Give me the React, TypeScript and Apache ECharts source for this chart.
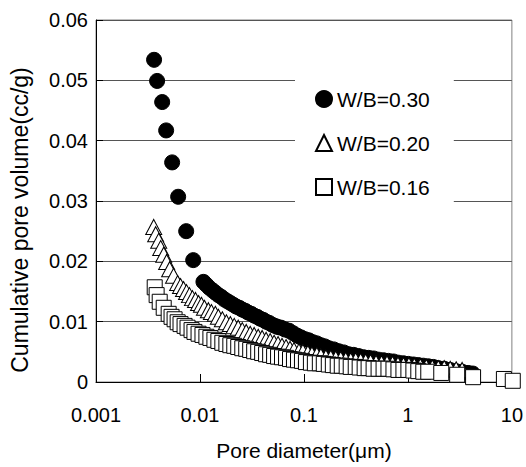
import React, { useEffect, useRef } from "react";
import * as echarts from "echarts";

const seriesNames = ["W/B=0.30", "W/B=0.20", "W/B=0.16"];
const xTickLabels = ["0.001", "0.01", "0.1", "1", "10"];
const yTickLabels = ["0", "0.01", "0.02", "0.03", "0.04", "0.05", "0.06"];
const xAxisTitle = "Pore diameter(μm)";
const yAxisTitle = "Cumulative pore volume(cc/g)";

// W/B=0.30 : pore diameter (μm)
const wb030Diameter = [
  0.00362, 0.00387, 0.00433, 0.00473, 0.0054, 0.00617, 0.00737, 0.00861,
  0.0108, 0.01153, 0.01233, 0.01318, 0.01407, 0.01503, 0.01607, 0.01714, 0.01832, 0.01959,
  0.02094, 0.02234, 0.02388, 0.02553, 0.02724, 0.02911, 0.03112, 0.03327, 0.03548, 0.03793,
  0.04055, 0.04325, 0.04624, 0.04943, 0.05278, 0.05636, 0.06026, 0.06577, 0.07186, 0.07852,
  0.0857, 0.09354, 0.1023, 0.1117, 0.1219, 0.133, 0.1455, 0.1589, 0.1734, 0.1936,
  0.2163, 0.2415, 0.2698, 0.3006, 0.3357, 0.375, 0.4188, 0.4677, 0.5224, 0.5834,
  0.6501, 0.7261, 0.811, 0.9057, 1.011, 1.129, 1.259, 1.406, 1.57, 1.754,
  1.959, 2.234, 2.551, 2.911, 3.323, 3.793, 4.2,
];
// W/B=0.30 : cumulative pore volume (cc/g)
const wb030Volume = [
  0.0534, 0.0499, 0.0464, 0.0417, 0.0364, 0.0307, 0.025, 0.0202,
  0.0166, 0.0161, 0.0156, 0.0152, 0.0148, 0.0144, 0.0141, 0.0137, 0.0134, 0.0131,
  0.0128, 0.0125, 0.0123, 0.012, 0.0118, 0.0115, 0.0113, 0.011, 0.0108, 0.0105,
  0.0103, 0.01, 0.0098, 0.0095, 0.0093, 0.0091, 0.009, 0.0087, 0.0085, 0.0081,
  0.0077, 0.0074, 0.0071, 0.0069, 0.0066, 0.0064, 0.0061, 0.0059, 0.0056, 0.0054,
  0.0051, 0.0049, 0.0046, 0.0045, 0.0043, 0.0041, 0.004, 0.0039, 0.0037, 0.0036,
  0.0035, 0.0034, 0.0032, 0.0031, 0.003, 0.0029, 0.0028, 0.0027, 0.0026, 0.0025,
  0.0023, 0.0022, 0.002, 0.0018, 0.0017, 0.0015, 0.0014,
];

// W/B=0.20
const wb020Diameter = [
  0.00359, 0.00375, 0.00401, 0.00419, 0.00448, 0.00478, 0.00511, 0.00557, 0.0061, 0.0065,
  0.00695, 0.00743, 0.00793, 0.00847, 0.00906, 0.00969, 0.01033, 0.01104, 0.01205, 0.01288,
  0.01406, 0.01503, 0.01641, 0.01795, 0.01959, 0.02138, 0.02333, 0.02553, 0.02786, 0.03041,
  0.03322, 0.03631, 0.03963, 0.04325, 0.04732, 0.05164, 0.05636, 0.06152, 0.0673, 0.07345,
  0.08017, 0.08954, 0.09772, 0.1091, 0.1194, 0.133, 0.1455, 0.1626, 0.1811, 0.2023,
  0.2259, 0.2523, 0.2818, 0.3146, 0.3512, 0.3921, 0.4375, 0.4937, 0.5572, 0.6296,
  0.7112, 0.8026, 0.9057, 1.022, 1.153, 1.316, 1.503, 1.716, 1.959, 2.236,
  2.551, 2.912, 3.323,
];
const wb020Volume = [
  0.0257, 0.0245, 0.0234, 0.0222, 0.0211, 0.0199, 0.0187, 0.0176, 0.0164, 0.0159,
  0.0154, 0.0149, 0.0144, 0.0139, 0.0136, 0.0131, 0.0128, 0.0123, 0.0119, 0.0116,
  0.0113, 0.0108, 0.0104, 0.0099, 0.0096, 0.0093, 0.009, 0.0086, 0.0083, 0.008,
  0.0078, 0.0075, 0.0073, 0.007, 0.0068, 0.0065, 0.0063, 0.006, 0.0058, 0.0055,
  0.0053, 0.0051, 0.005, 0.0048, 0.0046, 0.0045, 0.0043, 0.0041, 0.004, 0.0039,
  0.0038, 0.0037, 0.0036, 0.0036, 0.0035, 0.0034, 0.0033, 0.0032, 0.0031, 0.0031,
  0.003, 0.0029, 0.0028, 0.0028, 0.0027, 0.0026, 0.0025, 0.0024, 0.0023, 0.0023,
  0.0022, 0.0021, 0.002,
];

// W/B=0.16
const wb016Diameter = [
  0.00367, 0.00383, 0.0041, 0.00448, 0.005, 0.00533, 0.0057, 0.0061, 0.0065, 0.00711,
  0.00759, 0.0083, 0.00885, 0.00969, 0.01057, 0.01153, 0.0126, 0.01377, 0.01503, 0.01641,
  0.01795, 0.01959, 0.02138, 0.02333, 0.02553, 0.02786, 0.03041, 0.03322, 0.03631, 0.03963,
  0.04325, 0.04732, 0.05164, 0.05636, 0.06152, 0.0673, 0.07345, 0.08017, 0.0877, 0.09572,
  0.1045, 0.1167, 0.1274, 0.1422, 0.1552, 0.1734, 0.1897, 0.2113, 0.2312, 0.2576,
  0.2818, 0.3148, 0.3436, 0.3837, 0.4188, 0.4677, 0.5224, 0.5834, 0.6501, 0.7261,
  0.811, 0.9057, 1.011, 1.129, 1.259, 1.406, 1.57, 2.093, 2.977, 4.236,
  8.38, 10.2,
];
const wb016Volume = [
  0.0157, 0.0144, 0.0133, 0.0123, 0.0113, 0.0108, 0.0104, 0.0099, 0.0096, 0.0093,
  0.009, 0.0086, 0.0083, 0.008, 0.0078, 0.0075, 0.0073, 0.007, 0.0068, 0.0065,
  0.0063, 0.0061, 0.006, 0.0058, 0.0056, 0.0055, 0.0053, 0.0051, 0.005, 0.0048,
  0.0046, 0.0045, 0.0043, 0.0042, 0.0041, 0.004, 0.0038, 0.0037, 0.0036, 0.0035,
  0.0033, 0.0032, 0.0031, 0.0031, 0.003, 0.0029, 0.0028, 0.0027, 0.0027, 0.0026,
  0.0025, 0.0025, 0.0024, 0.0023, 0.0023, 0.0022, 0.0022, 0.0022, 0.0022, 0.0021,
  0.002, 0.002, 0.002, 0.0019, 0.0018, 0.0017, 0.0017, 0.0015, 0.0012, 0.0008,
  0.0005, 0.0002,
];

const FONT = "'Liberation Sans', Arial, sans-serif";

function pairs(xs: number[], ys: number[]) {
  return xs.map((x, i) => [x, ys[i]]);
}

export default function App() {
  const ref = useRef<HTMLDivElement>(null);

  useEffect(() => {
    if (!ref.current) return;
    const chart = echarts.init(ref.current, null, { renderer: "svg" });
    const option: any = {
      animation: false,
      backgroundColor: "#ffffff",
      textStyle: { fontFamily: FONT, color: "#000" },
      grid: {
        left: 96,
        right: 12,
        top: 20,
        bottom: 85,
        show: true,
        borderColor: "#808080",
        borderWidth: 1,
        backgroundColor: "transparent",
      },
      legend: {
        orient: "vertical",
        left: 295,
        top: 60,
        padding: [28, 24, 17, 20],
        backgroundColor: "#ffffff",
        itemWidth: 16,
        itemHeight: 16,
        itemGap: 22,
        textStyle: { fontFamily: FONT, fontSize: 21, color: "#000", lineHeight: 22 },
        data: [
          { name: seriesNames[0], icon: "circle" },
          { name: seriesNames[1], icon: "triangle" },
          { name: seriesNames[2], icon: "rect" },
        ],
      },
      xAxis: {
        type: "log",
        logBase: 10,
        min: 0.001,
        max: 10,
        name: xAxisTitle,
        nameLocation: "middle",
        nameGap: 58,
        nameTextStyle: { fontFamily: FONT, fontSize: 21, color: "#000" },
        axisLine: { show: true, onZero: false, lineStyle: { color: "#000", width: 1 } },
        axisTick: { show: true, inside: true, length: 8, lineStyle: { color: "#000" } },
        minorTick: { show: false },
        splitLine: { show: false },
        axisLabel: {
          fontFamily: FONT,
          fontSize: 20,
          color: "#000",
          margin: 23,
          formatter: (v: number) => xTickLabels[Math.round(Math.log10(v)) + 3] ?? "",
        },
      },
      yAxis: {
        type: "value",
        min: 0,
        max: 0.06,
        interval: 0.01,
        axisLine: { show: true, lineStyle: { color: "#000", width: 1 } },
        axisTick: { show: true, inside: true, length: 7, lineStyle: { color: "#000" } },
        splitLine: { show: true, lineStyle: { color: "#555555", width: 1 } },
        axisLabel: {
          fontFamily: FONT,
          fontSize: 20,
          color: "#000",
          margin: 8,
          formatter: (v: number) => yTickLabels[Math.round(v / 0.01)] ?? "",
        },
      },
      graphic: [
        {
          type: "text",
          x: 20,
          y: 220,
          rotation: Math.PI / 2,
          style: {
            text: yAxisTitle,
            font: `23px ${FONT}`,
            fill: "#000",
            align: "center",
            verticalAlign: "middle",
          },
        },
      ],
      series: [
        {
          name: seriesNames[0],
          type: "scatter",
          symbol: "circle",
          symbolSize: 15,
          clip: false,
          itemStyle: { color: "#000", borderColor: "#000", borderWidth: 1, opacity: 1 },
          data: pairs(wb030Diameter, wb030Volume),
          z: 2,
        },
        {
          name: seriesNames[1],
          type: "scatter",
          symbol: "triangle",
          symbolSize: [16, 15],
          clip: false,
          itemStyle: { color: "#fff", borderColor: "#000", borderWidth: 1, opacity: 1 },
          data: pairs(wb020Diameter, wb020Volume),
          z: 3,
        },
        {
          name: seriesNames[2],
          type: "scatter",
          symbol: "rect",
          symbolSize: 15,
          clip: false,
          itemStyle: { color: "#fff", borderColor: "#000", borderWidth: 1, opacity: 1 },
          data: pairs(wb016Diameter, wb016Volume),
          z: 4,
        },
      ],
    };
    chart.setOption(option);
    return () => chart.dispose();
  }, []);

  return (
    <div
      ref={ref}
      style={{ position: "fixed", left: 0, top: 0, width: 526, height: 467, background: "#fff" }}
    />
  );
}
